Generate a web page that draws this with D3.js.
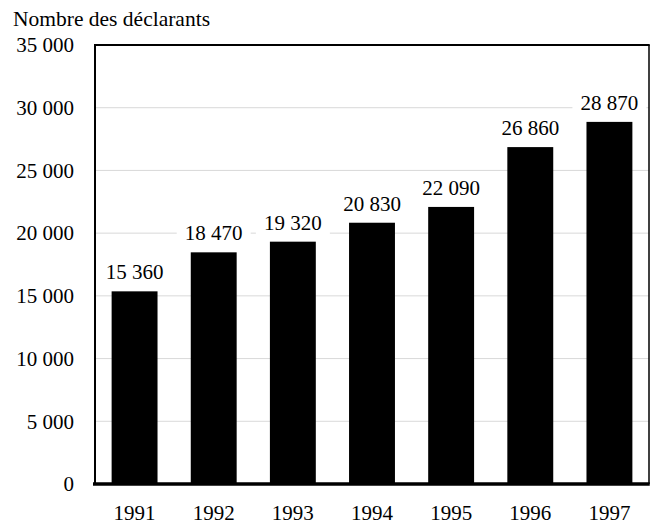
<html>
<head>
    <meta charset="utf-8">
    <script type="text/javascript" src="https://cdn.jsdelivr.net/npm/d3@7"></script>
    <style>
        body { margin: 0; background: #ffffff; }
        svg text { font-family: 'Liberation Serif', 'Times New Roman', serif; fill: #000000; }
        .grid line { stroke: #d9d9d9; stroke-width: 1; }
    </style>
</head>
<body>
    <svg id="chart" width="653" height="525" font-family="Liberation Serif"></svg>
    <script type="text/javascript">
        // data
        var years = ["1991", "1992", "1993", "1994", "1995", "1996", "1997"];
        var declarants = [15360, 18470, 19320, 20830, 22090, 26860, 28870];
        var yTicks = [0, 5000, 10000, 15000, 20000, 25000, 30000, 35000];

        var svg = d3.select("#chart");
        // plot box (note: "top" is taken by window.top)
        var plotLeft = 95, plotRight = 649, plotTop = 45, plotBottom = 484;
        var serif = "'Liberation Serif', 'Times New Roman', serif";

        // french style thousands: "35 000"
        var fmt = function(v) {
            return d3.format(",")(v).replace(/,/g, " ");
        };

        var x = d3.scaleBand()
            .domain(years)
            .range([plotLeft, plotRight])
            .paddingInner(0.42)
            .paddingOuter(0.21);

        var y = d3.scaleLinear()
            .domain([0, 35000])
            .range([plotBottom, plotTop]);

        // title
        svg.append("text")
            .attr("x", 13)
            .attr("y", 26)
            .attr("font-family", serif)
            .style("font-size", "21.5px")
            .text("Nombre des déclarants");

        // gridlines
        svg.append("g")
            .attr("class", "grid")
            .selectAll("line")
            .data(yTicks.filter(function(d) { return d > 0 && d < 35000; }))
            .enter()
            .append("line")
            .attr("x1", plotLeft)
            .attr("x2", plotRight)
            .attr("y1", function(d) { return y(d); })
            .attr("y2", function(d) { return y(d); });

        // bars
        svg.append("g")
            .selectAll("rect")
            .data(declarants)
            .enter()
            .append("rect")
            .attr("x", function(d, i) { return x(years[i]); })
            .attr("width", x.bandwidth())
            .attr("y", function(d) { return y(d); })
            .attr("height", function(d) { return y(0) - y(d); })
            .attr("fill", "#000000");

        // frame
        svg.append("line")
            .attr("x1", plotLeft).attr("x2", plotLeft)
            .attr("y1", plotTop).attr("y2", plotBottom)
            .attr("stroke", "#000").attr("stroke-width", 2);
        svg.append("line")
            .attr("x1", plotLeft - 1).attr("x2", plotRight + 0.75)
            .attr("y1", plotTop).attr("y2", plotTop)
            .attr("stroke", "#000").attr("stroke-width", 2);
        svg.append("line")
            .attr("x1", plotRight).attr("x2", plotRight)
            .attr("y1", plotTop).attr("y2", plotBottom)
            .attr("stroke", "#000").attr("stroke-width", 1.5);

        // y axis labels
        var yAxis = d3.axisLeft(y)
            .tickValues(yTicks)
            .tickFormat(fmt)
            .tickSize(0)
            .tickPadding(21);
        var gy = svg.append("g")
            .attr("transform", "translate(" + plotLeft + ",0)")
            .call(yAxis)
            .attr("font-family", serif)
            .attr("font-size", 21);
        gy.select(".domain").remove();

        // x axis
        var xAxis = d3.axisBottom(x)
            .tickSize(0)
            .tickPadding(21);
        var gx = svg.append("g")
            .attr("transform", "translate(0," + plotBottom + ")")
            .call(xAxis)
            .attr("font-family", serif)
            .attr("font-size", 21);
        gx.select(".domain").remove();
        svg.append("line")
            .attr("x1", plotLeft - 2).attr("x2", plotRight + 0.75)
            .attr("y1", plotBottom).attr("y2", plotBottom)
            .attr("stroke", "#000").attr("stroke-width", 3.5);

        // value labels with white backing
        var labels = svg.append("g")
            .selectAll("g")
            .data(declarants)
            .enter()
            .append("g")
            .attr("transform", function(d, i) {
                return "translate(" + (x(years[i]) + x.bandwidth() / 2) + "," + (y(d) - 12) + ")";
            });
        labels.append("rect")
            .attr("x", -37)
            .attr("y", -20)
            .attr("width", 74)
            .attr("height", 26)
            .attr("fill", "#ffffff");
        labels.append("text")
            .attr("text-anchor", "middle")
            .attr("font-family", serif)
            .style("font-size", "21px")
            .text(function(d) { return fmt(d); });
    </script>
</body>
</html>
